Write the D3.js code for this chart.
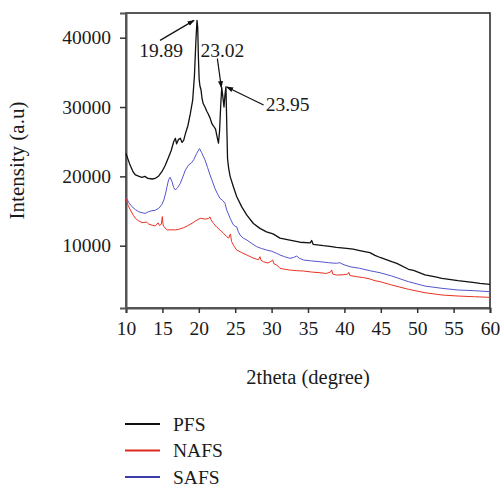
<!DOCTYPE html>
<html>
<head>
<meta charset="utf-8">
<script src="https://cdn.jsdelivr.net/npm/d3@7"></script>
<style>
  body { margin: 0; background: #fff; }
  text { font-family: "Liberation Serif", "Times New Roman", serif; fill: #1a1a1a; }
</style>
</head>
<body>
<div id="root"></div>
<script>
//series names for the legend
const seriesNames = ["PFS", "NAFS", "SAFS"];

//x ticks (2theta) and y ticks (intensity)
const xTicks = [10, 15, 20, 25, 30, 35, 40, 45, 50, 55, 60];
const yTicks = [10000, 20000, 30000, 40000];

//[2theta, intensity]
const pfsData = [
  [10, 23300], [10.5, 21800], [11, 20600], [11.3, 20200], [11.8, 20000], [12.2, 19870],
  [12.6, 20000], [13, 19700], [13.6, 19620], [14, 19700], [14.5, 20060], [15, 20800],
  [15.4, 21600], [15.9, 22900], [16.2, 23700], [16.55, 25000], [16.78, 25500], [16.95, 24700],
  [17.2, 25300], [17.46, 25500], [17.7, 24900], [17.92, 25200], [18.2, 26300], [18.5, 27300],
  [18.83, 29000], [19.16, 31000], [19.4, 34500], [19.6, 39500], [19.75, 42500], [19.85, 41500],
  [19.95, 37000], [20.05, 34000], [20.16, 33000], [20.3, 32500], [20.45, 31200], [20.6, 30500],
  [20.85, 30000], [21.1, 29400], [21.3, 29000], [21.55, 28400], [21.8, 27600], [22, 27300],
  [22.3, 26800], [22.55, 25500], [22.7, 24800], [22.85, 26500], [23, 30000], [23.15, 32800],
  [23.3, 31500], [23.46, 30000], [23.6, 31800], [23.73, 32900], [23.85, 27000], [23.95, 22500],
  [24.1, 21200], [24.3, 20000], [24.75, 18500], [25.2, 17100], [25.9, 15600], [26.6, 14400],
  [27.5, 13200], [28.4, 12500], [29.3, 12000], [30.2, 11700], [31.15, 11100], [32.5, 10800],
  [33.9, 10500], [35.3, 10400], [35.5, 10750], [35.7, 10200], [37.1, 10000], [38, 9900],
  [38.9, 9750], [40.3, 9620], [41.2, 9500], [42.1, 9300], [43.5, 9000], [44.2, 8600],
  [44.9, 8300], [46.5, 7690], [47.2, 7450], [48.8, 6600], [49.5, 6450], [51.07, 5800],
  [52.5, 5500], [53.4, 5290], [55.6, 4950], [57.9, 4660], [58.6, 4570], [60, 4430]
];

const nafsData = [
  [10, 16840], [10.3, 15800], [10.6, 15150], [11, 14400], [11.28, 13950], [11.7, 13600],
  [12.2, 13320], [12.84, 13400], [13.1, 13130], [13.6, 12950], [14.03, 12840], [14.25, 13100],
  [14.4, 13300], [14.6, 12900], [14.85, 13100], [14.99, 14200], [15.1, 13000], [15.2, 12740],
  [15.66, 12270], [16.2, 12300], [16.78, 12270], [17.35, 12400], [17.92, 12600], [18.5, 12900],
  [19.07, 13230], [19.6, 13600], [20.2, 13950], [20.8, 13850], [21.3, 13900], [21.54, 14150],
  [21.7, 13700], [22, 13230], [22.45, 12700], [22.9, 12270], [23.4, 11800], [23.83, 11300],
  [24.1, 11100], [24.35, 11700], [24.5, 10600], [24.8, 10000], [25.2, 9380], [25.9, 9000],
  [26.6, 8660], [27.3, 8300], [27.95, 8040], [28.2, 8000], [28.4, 8410], [28.55, 7900],
  [28.86, 7690], [29.5, 7500], [30, 7800], [30.15, 7940], [30.3, 7400], [30.7, 7220],
  [31.15, 6740], [31.8, 6600], [32.5, 6490], [33.4, 6400], [34.35, 6350], [35.5, 6200],
  [36.65, 6100], [37.5, 6000], [38.1, 6200], [38.25, 6500], [38.4, 5900], [38.9, 5770],
  [39.8, 5800], [40.45, 5900], [40.6, 6150], [40.75, 5700], [41.7, 5530], [42.6, 5400],
  [43.5, 5200], [44.2, 4950], [44.9, 4810], [46.5, 4330], [48.8, 3710], [51.07, 3220],
  [53.4, 2890], [55.6, 2740], [57.9, 2640], [60, 2550]
];

const safsData = [
  [10, 16980], [10.4, 16200], [10.82, 15630], [11.3, 15200], [11.74, 14900], [12.2, 14750],
  [12.65, 14670], [13.1, 14900], [13.57, 15050], [14, 15100], [14.5, 15400], [14.9, 15900],
  [15.2, 16600], [15.45, 17600], [15.63, 18500], [15.85, 19500], [16.05, 19870], [16.3, 19300],
  [16.55, 18400], [16.78, 18040], [17.1, 18400], [17.46, 19000], [17.8, 19900], [18.15, 20900],
  [18.6, 21650], [18.95, 21900], [19.3, 22400], [19.7, 23300], [20.1, 24000], [20.4, 23400],
  [20.85, 22370], [21.2, 21300], [21.54, 20200], [21.9, 19200], [22.2, 18300], [22.55, 17500],
  [22.9, 16840], [23.3, 16500], [23.6, 16120], [23.83, 15150], [24.05, 14600], [24.3, 13950],
  [24.75, 13000], [25, 12800], [25.2, 12740], [25.4, 12100], [25.66, 11540], [26.1, 11100],
  [26.6, 10820], [27.3, 10300], [27.95, 9860], [28.6, 9600], [29.3, 9380], [30, 9200],
  [30.7, 8900], [31.15, 8660], [31.8, 8400], [32.5, 8180], [33, 8300], [33.45, 8500],
  [33.8, 8200], [34.35, 7940], [35.5, 7800], [36.65, 7690], [37.8, 7550], [38.9, 7460],
  [39.4, 7550], [39.8, 7300], [40.77, 6970], [42.1, 6740], [43.5, 6390], [44.9, 6100],
  [46.5, 5630], [48.8, 4810], [51.07, 4180], [53.4, 3850], [55.6, 3610], [57.9, 3510],
  [60, 3360]
];

//peak labels: text, and the point the arrow touches
const peakLabels = ["19.89", "23.02", "23.95"];
const peakTheta = [19.35, 23.1, 23.82];
const peakIntensity = [42500, 32800, 32900];

//dimensions of svg canvas
const width = 500;
const height = 488;
const margin = {top: 13, right: 10, bottom: 180, left: 126};

const svg = d3.select("#root")
  .append("svg")
  .attr("width", width)
  .attr("height", height);

svg.append("defs").append("marker")
  .attr("id", "arrow")
  .attr("viewBox", "0 0 10 10")
  .attr("refX", 9).attr("refY", 5)
  .attr("markerWidth", 6).attr("markerHeight", 6)
  .attr("orient", "auto")
  .append("path")
  .attr("d", "M0,1.5 L10,5 L0,8.5 Z")
  .attr("fill", "#111");

const xScale = d3.scaleLinear()
  .domain([10, 60])
  .range([margin.left, width - margin.right]);

const yScale = d3.scaleLinear()
  .domain([1014, 43563])
  .range([height - margin.bottom, margin.top]);

const colors = ["#111111", "#ea3324", "#5555cc"];
const legendColors = ["#111111", "#e0281c", "#3c3ca8"];

//frame
svg.append("rect")
  .attr("x", margin.left)
  .attr("y", margin.top)
  .attr("width", width - margin.right - margin.left)
  .attr("height", height - margin.bottom - margin.top)
  .attr("fill", "none")
  .attr("stroke", "#222")
  .attr("stroke-width", 1.5);

//x axis
const xAxis = svg.append("g")
  .attr("transform", "translate(0," + (height - margin.bottom) + ")")
  .call(d3.axisBottom(xScale).tickValues(xTicks).tickSize(5).tickPadding(8).tickFormat(d3.format("d")));

//y axis
const yAxis = svg.append("g")
  .attr("transform", "translate(" + margin.left + ",0)")
  .call(d3.axisLeft(yScale).tickValues(yTicks).tickSize(6).tickPadding(9).tickFormat(d3.format("d")));

[xAxis, yAxis].forEach(function(ax){
  ax.select(".domain").attr("stroke", "#555").attr("stroke-width", 2);
  ax.selectAll(".tick line").attr("stroke", "#333").attr("stroke-width", 1.5);
  ax.selectAll(".tick text")
    .style("font-family", "'Liberation Serif', serif")
    .style("font-size", "19.5px")
    .attr("fill", "#1a1a1a");
});

//curves
const line = d3.line()
  .x(function(d){ return xScale(d[0]); })
  .y(function(d){ return yScale(d[1]); });

const allSeries = [pfsData, nafsData, safsData];
//draw black last so it sits on top
[2, 1, 0].forEach(function(i){
  svg.append("path")
    .datum(allSeries[i])
    .attr("d", line)
    .attr("fill", "none")
    .attr("stroke", colors[i])
    .attr("stroke-width", i === 0 ? 1.3 : 1)
    .attr("stroke-linejoin", "round");
});

//peak annotations: text offset and arrow start relative to the tip
const textOffsets = [[-33, 37], [1, -31], [61, 24]];
const arrowStarts = [[-34, 20], [-4, -29], [37, 18]];
peakLabels.forEach(function(lbl, i){
  const tx = xScale(peakTheta[i]);
  const ty = yScale(peakIntensity[i]);
  svg.append("line")
    .attr("x1", tx + arrowStarts[i][0])
    .attr("y1", ty + arrowStarts[i][1])
    .attr("x2", tx)
    .attr("y2", ty)
    .attr("stroke", "#111")
    .attr("stroke-width", 1.2)
    .attr("marker-end", "url(#arrow)");
  svg.append("text")
    .attr("x", tx + textOffsets[i][0])
    .attr("y", ty + textOffsets[i][1])
    .attr("text-anchor", "middle")
    .style("font-size", "19.5px")
    .text(lbl);
});

//axis titles
svg.append("text")
  .attr("x", (margin.left + width - margin.right) / 2)
  .attr("y", 384)
  .attr("text-anchor", "middle")
  .style("font-size", "20.5px")
  .text("2theta (degree)");

svg.append("text")
  .attr("transform", "translate(24," + ((margin.top + height - margin.bottom) / 2) + ") rotate(-90)")
  .attr("text-anchor", "middle")
  .style("font-size", "21px")
  .text("Intensity (a.u)");

//legend
seriesNames.forEach(function(name, i){
  const ly = 424 + i * 26.5;
  svg.append("line")
    .attr("x1", 125).attr("x2", 160)
    .attr("y1", ly).attr("y2", ly)
    .attr("stroke", legendColors[i])
    .attr("stroke-width", 2);
  svg.append("text")
    .attr("x", 173)
    .attr("y", ly + 6.5)
    .style("font-size", "19.5px")
    .text(name);
});
</script>
</body>
</html>
